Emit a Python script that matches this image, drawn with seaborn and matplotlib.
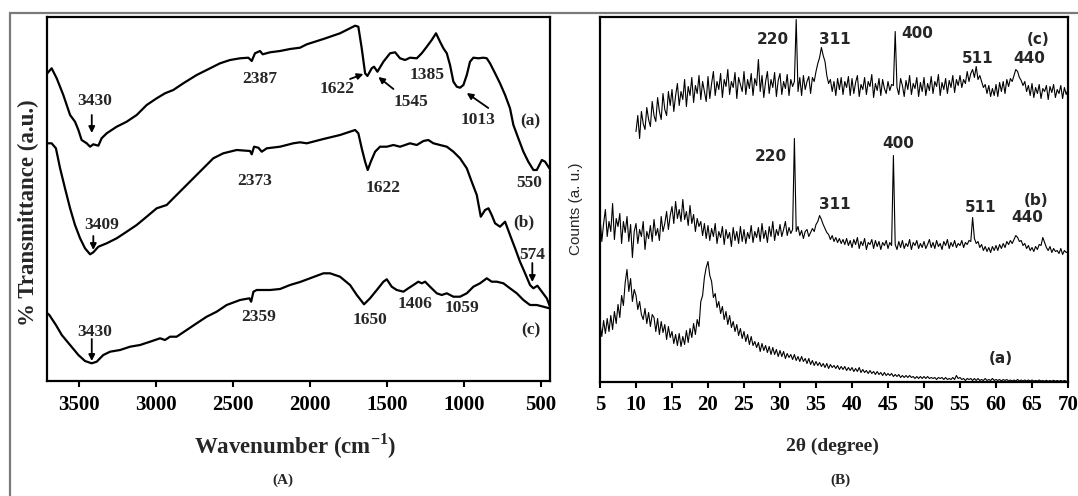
import numpy as np
import pandas as pd
import matplotlib
matplotlib.use("Agg")
import matplotlib.pyplot as plt
from matplotlib.patches import Rectangle
import seaborn as sns

# ---------------- FTIR spectra (panel A) ----------------
ftir_wn_a = [3708, 3680, 3647, 3604, 3560, 3528, 3506, 3485, 3452, 3430,
             3409, 3376, 3355, 3322, 3257, 3192, 3127, 3062, 2997, 2943,
             2889, 2824, 2737, 2672, 2585, 2520, 2455, 2401, 2379, 2358,
             2325, 2308, 2260, 2195, 2130, 2065, 2021, 1913, 1805, 1707,
             1686, 1664, 1642, 1627, 1599, 1584, 1562, 1523, 1480, 1447,
             1415, 1382, 1350, 1306, 1274, 1241, 1209, 1181, 1155, 1133,
             1111, 1090, 1068, 1046, 1025, 1003, 981, 960, 938, 906,
             873, 851, 830, 797, 765, 732, 700, 678, 646, 613,
             581, 548, 526, 493, 472, 444]
ftir_a = [307.7, 312.7, 302.7, 286, 266, 259.3, 251, 241, 237.7, 234.3,
          236.7, 235.3, 242.7, 247.7, 254.3, 259.3, 266, 276, 282.7, 287.7,
          291, 297.7, 306, 311, 317.7, 321, 322.7, 323.3, 320, 327.7,
          330, 326.7, 328.7, 330, 332, 333.3, 336.7, 342, 347.7, 355.3,
          354.3, 332.7, 307.7, 305, 312.7, 314.3, 309.3, 319.3, 327.7, 328.7,
          322.7, 321, 323.3, 322.7, 327.7, 334.3, 341, 347.7, 339.3, 332.7,
          327.7, 316, 299.3, 294.3, 293.3, 296, 306, 319.3, 323.3, 322.7,
          323.3, 322.7, 317.7, 307.7, 297.7, 286, 272.7, 256, 242.7, 229.3,
          219.3, 211, 211, 221, 219.3, 212.7]

ftir_wn_b = [3708, 3680, 3652, 3625, 3593, 3560, 3528, 3495, 3463, 3430,
             3409, 3376, 3322, 3257, 3192, 3127, 3062, 2997, 2932, 2889,
             2824, 2759, 2694, 2629, 2564, 2477, 2390, 2379, 2364, 2336,
             2314, 2281, 2195, 2109, 2065, 2021, 1913, 1805, 1707, 1686,
             1664, 1642, 1625, 1605, 1577, 1545, 1501, 1458, 1415, 1382,
             1350, 1306, 1263, 1231, 1198, 1155, 1111, 1068, 1025, 981,
             949, 916, 890, 862, 840, 819, 797, 765, 732, 700,
             667, 635, 602, 570, 548, 522, 493, 461, 440]
ftir_b = [237.7, 237.7, 232.7, 212.7, 192.7, 172.7, 156, 142.7, 132.7, 126.7,
          128.7, 134.3, 137.7, 142.7, 149.3, 156, 164.3, 172.7, 176, 182.7,
          192.7, 202.7, 212.7, 222.7, 227.7, 231, 230, 226.7, 234.3, 233.3,
          229.3, 232.7, 234.3, 237.7, 238.7, 237.7, 242, 246, 251, 247.7,
          232.7, 219.3, 211, 219.3, 229.3, 234.3, 234.3, 236, 234.3, 236,
          237.7, 236, 240, 241, 237.7, 236, 234.3, 229.3, 222.7, 212.7,
          199.3, 186, 164.3, 171, 172.7, 166, 157.7, 154.3, 159.3, 146,
          132.7, 119.3, 107.7, 96, 92.7, 95.3, 89.3, 82.7, 74.3]

ftir_wn_c = [3708, 3695, 3652, 3614, 3560, 3506, 3463, 3420, 3387, 3344,
             3300, 3235, 3170, 3105, 3040, 2975, 2943, 2910, 2867, 2802,
             2737, 2672, 2607, 2542, 2455, 2394, 2383, 2368, 2347, 2260,
             2195, 2130, 2065, 2000, 1913, 1870, 1805, 1740, 1696, 1649,
             1610, 1566, 1523, 1501, 1469, 1436, 1393, 1361, 1328, 1296,
             1274, 1252, 1220, 1176, 1144, 1111, 1068, 1025, 981, 938,
             895, 851, 819, 786, 743, 700, 656, 613, 570, 526,
             483, 444]
ftir_c = [67.7, 66, 56, 46, 36, 26, 20, 17.7, 19.3, 26,
          29.3, 31, 34.3, 36, 39.3, 42.7, 41, 44.3, 44.3, 51,
          57.7, 64.3, 69.3, 76, 81, 82.7, 79.3, 89.3, 91, 91,
          92, 96, 99, 102.7, 107.7, 107.7, 104.3, 96, 86, 76.7,
          82.7, 91, 99.3, 101.7, 94.3, 91, 89.3, 92.7, 96, 99.3,
          97.7, 99.3, 94.3, 87.7, 86, 87.7, 84.3, 84.3, 87.7, 94.3,
          97.7, 102.7, 99.3, 99.3, 97.7, 92.7, 87.7, 81, 76, 76,
          74.3, 72.7]

# band labels: (text, wavenumber, level) and arrows (x_tail, y_tail, x_head, y_head)
ftir_labels = [("3430", 3398, 280), ("2387", 2325, 302), ("1622", 1826, 292),
               ("1545", 1345, 279), ("1385", 1237, 306), ("1013", 906, 261),
               ("(a)", 570, 260), ("550", 574, 198),
               ("3409", 3354, 156), ("2373", 2358, 200), ("1622", 1527, 193),
               ("(b)", 613, 159), ("574", 558, 126),
               ("3430", 3398, 49), ("2359", 2336, 64), ("1650", 1610, 61),
               ("1406", 1317, 77), ("1059", 1014, 73), ("(c)", 565, 51)]
ftir_arrows = [(3419, 266, 3419, 248), (1740, 302, 1653, 307),
               (1458, 292, 1556, 304), (841, 273, 981, 288),
               (3409, 145, 3409, 131), (555, 118, 555, 99),
               (3419, 42, 3419, 20)]
ftir_ticks = [3500, 3000, 2500, 2000, 1500, 1000, 500]

# ---------------- XRD patterns (panel B), 0.25 degree steps ----------------
scan_ab = np.arange(5.0, 70.001, 0.25)
scan_c = np.arange(10.0, 70.001, 0.25)
xrd_a = [58, 45, 61, 48, 63, 50, 66, 52, 70, 58, 77, 64, 86, 76, 99, 112, 90, 103, 80, 92,
         86, 72, 80, 67, 62, 73, 58, 69, 55, 67, 64, 50, 63, 47, 60, 49, 57, 42, 55, 44,
         50, 38, 47, 36, 48, 35, 45, 37, 51, 39, 53, 44, 58, 47, 62, 55, 80, 86, 104, 114,
         120, 106, 100, 84, 88, 74, 80, 68, 75, 62, 70, 57, 66, 54, 60, 50, 57, 46, 53, 43,
         50, 40, 47, 37, 45, 36, 40, 34, 39, 30, 38, 31, 36, 29, 35, 27, 34, 27, 32, 25,
         31, 25, 30, 23, 28, 24, 27, 22, 27, 21, 25, 20, 25, 20, 23, 18, 23, 17, 21, 16,
         20, 16, 19, 15, 18, 14, 18, 13, 17, 14, 16, 13, 16, 12, 15, 12, 15, 11, 14, 11,
         14, 10, 13, 10, 14, 9, 12, 9, 11, 8, 11, 8, 10, 7, 10, 7, 9, 6, 9, 6,
         8, 6, 8, 5, 7, 5, 7, 4, 6, 4, 6, 4, 6, 4, 5, 3, 5, 3, 5, 3,
         5, 3, 5, 3, 4, 3, 4, 2, 4, 3, 4, 2, 4, 2, 3, 2, 4, 2, 6, 3,
         4, 2, 3, 1, 3, 2, 3, 1, 3, 1, 3, 1, 2, 1, 3, 1, 2, 1, 3, 1,
         2, 1, 2, 0.5, 2, 1, 2, 0.5, 1.5, 0.5, 1.5, 0.5, 2, 0.5, 1.5, 0.5, 1.5, 0.5, 1.5, 0.5,
         1.5, 0.5, 1, 0.5, 1.5, 0.5, 1, 0.3, 1.2, 0.3, 1, 0.3, 1.2, 0.3, 1, 0.3, 1, 0.3, 1, 0.3,
         0.5]
xrd_b = [165, 140, 158, 172, 145, 160, 150, 178, 142, 163, 155, 168, 138, 160, 149, 165, 140, 157, 124, 150,
         158, 138, 152, 145, 160, 132, 150, 143, 156, 140, 162, 146, 153, 141, 165, 150, 158, 170, 152, 166,
         175, 158, 180, 163, 172, 160, 182, 162, 170, 156, 176, 158, 167, 150, 163, 155, 160, 146, 158, 143,
         156, 141, 153, 145, 158, 138, 150, 144, 155, 137, 152, 143, 149, 135, 154, 141, 150, 138, 155, 140,
         152, 138, 149, 143, 156, 139, 150, 144, 154, 140, 158, 143, 151, 139, 155, 145, 160, 141, 152, 146,
         157, 145, 152, 160, 146, 154, 148, 152, 243, 150, 155, 146, 151, 143, 150, 152, 145, 149, 153, 150,
         157, 160, 166, 162, 157, 153, 149, 147, 142, 146, 140, 144, 139, 143, 138, 142, 137, 143, 136, 141,
         134, 142, 137, 144, 133, 140, 136, 143, 132, 139, 137, 142, 133, 141, 135, 140, 132, 139, 136, 141,
         133, 139, 136, 226, 137, 132, 140, 134, 141, 133, 138, 135, 142, 132, 139, 136, 141, 133, 138, 134,
         140, 133, 137, 142, 134, 139, 133, 141, 135, 138, 132, 140, 136, 142, 133, 139, 135, 141, 134, 138,
         136, 141, 134, 139, 137, 141, 140, 164, 143, 138, 140, 134, 137, 131, 135, 130, 134, 129, 135, 131,
         136, 131, 137, 133, 138, 134, 140, 137, 141, 138, 142, 146, 144, 140, 141, 136, 138, 133, 136, 131,
         134, 130, 135, 132, 137, 136, 144, 139, 134, 131, 135, 129, 133, 130, 131, 128, 133, 127, 131, 129,
         130]
xrd_c = [250, 266, 243, 270, 258, 252, 274, 262, 255, 280, 266, 260, 284, 270, 262, 288, 272, 266, 290, 276,
         292, 270, 286, 298, 276, 290, 282, 302, 275, 295, 286, 304, 279, 296, 288, 306, 282, 300, 290, 280,
         305, 283, 298, 310, 286, 300, 292, 308, 284, 302, 295, 312, 287, 300, 294, 309, 283, 304, 297, 290,
         310, 287, 302, 293, 308, 286, 303, 296, 322, 290, 306, 284, 300, 310, 288, 302, 294, 309, 285, 301,
         308, 287, 300, 293, 307, 286, 302, 295, 300, 362, 290, 304, 286, 306, 292, 300, 305, 288, 304, 300,
         310, 318, 324, 334, 326, 320, 306, 298, 302, 290, 300, 286, 303, 292, 304, 287, 300, 294, 305, 286,
         303, 288, 299, 306, 285, 297, 292, 304, 287, 300, 295, 307, 284, 298, 291, 303, 286, 302, 293, 288,
         300, 291, 297, 296, 350, 294, 287, 303, 296, 285, 301, 292, 306, 287, 298, 293, 304, 285, 299, 290,
         304, 286, 298, 291, 305, 288, 300, 295, 307, 286, 299, 292, 303, 288, 301, 294, 306, 289, 302, 296,
         306, 294, 302, 298, 310, 300, 308, 312, 304, 315, 302, 306, 300, 294, 297, 288, 296, 285, 293, 286,
         297, 285, 299, 290, 300, 288, 302, 295, 303, 300, 306, 312, 310, 304, 301, 296, 300, 290, 296, 286,
         298, 284, 294, 288, 297, 283, 293, 290, 296, 282, 295, 289, 297, 284, 292, 288, 296, 283, 294, 287,
         292]

xrd_labels = [("220", 29.0, 342), ("311", 37.6, 342), ("400", 49.0, 348),
              ("(c)", 65.9, 342), ("511", 57.4, 323), ("440", 64.6, 323),
              ("220", 28.75, 225), ("400", 46.4, 238), ("311", 37.6, 177),
              ("(b)", 65.6, 181), ("511", 57.9, 174), ("440", 64.4, 164),
              ("(a)", 60.6, 23)]
xrd_ticks = list(range(5, 71, 5))

# ---------------- figure ----------------
sns.set_style("ticks")
plt.rcParams["font.family"] = ["Liberation Serif", "DejaVu Serif"]
plt.rcParams["font.weight"] = "bold"
plt.rcParams["mathtext.fontset"] = "custom"
plt.rcParams["mathtext.rm"] = "Liberation Serif:bold"
plt.rcParams["mathtext.bf"] = "Liberation Serif:bold"

W, H = 1078, 496
fig = plt.figure(figsize=(W / 100, H / 100), dpi=100)
fig.patch.set_facecolor("white")


def fx(px):
    return px / W


def fy(py):
    return 1 - py / H


ax1 = fig.add_axes([fx(46.7), fy(381), fx(550 - 46.7), (381 - 16.7) / H])
ax2 = fig.add_axes([fx(600), fy(381.5), fx(1068 - 600), (381.5 - 17) / H])

# outer frame of the composite figure
fig.add_artist(Rectangle((fx(10), -0.1), 1.2, fy(12.5) + 0.1, transform=fig.transFigure,
                         fill=False, edgecolor="#7a7a7a", lw=1.6, clip_on=False))

for wn, tr in [(ftir_wn_a, ftir_a), (ftir_wn_b, ftir_b), (ftir_wn_c, ftir_c)]:
    sns.lineplot(x=wn, y=tr, ax=ax1, color="black", lw=1.6, sort=False, estimator=None)

ax1.set_xlim(3712, 440)
ax1.set_ylim(0, 364.3)
ax1.set_xticks(ftir_ticks)
ax1.set_xticklabels([str(t) for t in ftir_ticks])
ax1.set_yticks([])
ax1.set_xlabel("")
ax1.set_ylabel("")

for txt, x, y in ftir_labels:
    ax1.text(x, y, txt, ha="center", va="center", fontsize=12.5, fontweight="bold")
for x0, y0, x1, y1 in ftir_arrows:
    ax1.annotate("", xy=(x1, y1), xytext=(x0, y0),
                 arrowprops=dict(arrowstyle="-|>", color="black", lw=1.3, mutation_scale=9,
                                 shrinkA=0, shrinkB=0))

for xa, ya in [(scan_ab, xrd_a), (scan_ab, xrd_b), (scan_c, xrd_c)]:
    df = pd.DataFrame({"angle": xa, "counts": ya})
    sns.lineplot(data=df, x="angle", y="counts", ax=ax2, color="black", lw=0.8,
                 sort=True, estimator=None)

ax2.set_xlim(5, 70)
ax2.set_ylim(0, 364.5)
ax2.set_xticks(xrd_ticks)
ax2.set_xticklabels([str(t) for t in xrd_ticks])
ax2.set_yticks([])
ax2.set_xlabel("")
ax2.set_ylabel("")

for txt, x, y in xrd_labels:
    ax2.text(x, y, txt, ha="center", va="center", fontsize=11, fontweight="bold",
             family=["DejaVu Sans"])

for ax in (ax1, ax2):
    for sp in ax.spines.values():
        sp.set_visible(True)
        sp.set_linewidth(1.6)
        sp.set_color("black")
    ax.tick_params(axis="x", direction="out", length=4, width=1.5, pad=6,
                   labelsize=15, colors="black")
    for lab in ax.get_xticklabels():
        lab.set_fontweight("bold")

# axis titles and panel letters
fig.text(fx(28), fy(213), "% Transmittance (a.u.)", rotation=90, ha="center", va="center",
         fontsize=16.5, fontweight="bold")
fig.text(fx(295), fy(446), r"Wavenumber (cm$^{\mathbf{-1}}$)", ha="center", va="center",
         fontsize=16.5, fontweight="bold")
fig.text(fx(283), fy(480), "(A)", ha="center", va="center", fontsize=11, fontweight="bold")

fig.text(fx(576), fy(209), "Counts (a. u.)", rotation=90, ha="center", va="center",
         fontsize=11, fontweight="normal", family=["Liberation Sans"])
fig.text(fx(832), fy(446), "2θ (degree)", ha="center", va="center",
         fontsize=14, fontweight="bold")
fig.text(fx(840), fy(480), "(B)", ha="center", va="center", fontsize=11, fontweight="bold")

fig.savefig("out.png", dpi=100, facecolor="white")
